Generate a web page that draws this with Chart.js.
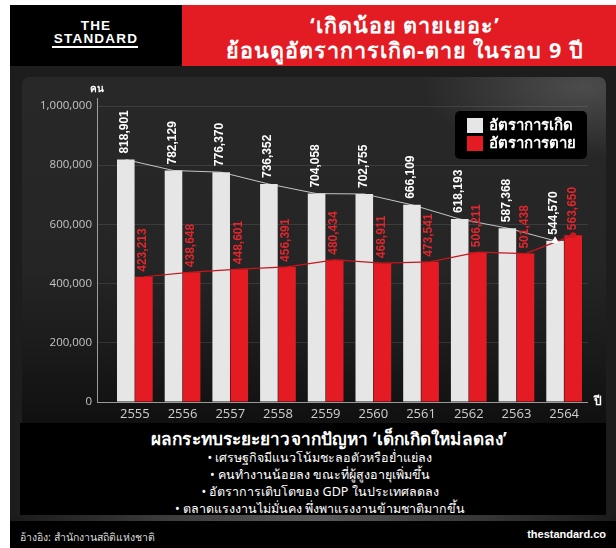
<!DOCTYPE html>
<html><head><meta charset="utf-8">
<script src="https://cdn.jsdelivr.net/npm/chart.js@4.4.1/dist/chart.umd.min.js"></script>
<style>
html,body{margin:0;padding:0;background:#fff;width:616px;height:548px;overflow:hidden;font-family:"Noto Sans","Open Sans",sans-serif;}
#page{position:relative;width:616px;height:548px;}
#dark{position:absolute;left:10px;top:5px;right:0;bottom:0;background:#1d1d1d;}
#logo{position:absolute;left:10px;top:5px;width:172px;height:61px;background:#000;color:#fff;text-align:center;font-family:"Liberation Sans",Arial,sans-serif;font-weight:bold;}
#logo .t1{position:absolute;left:0;right:0;top:14px;font-size:13.5px;letter-spacing:1.2px;line-height:13px;}
#logo .t2{position:absolute;left:0;right:0;top:27px;font-size:13.5px;letter-spacing:1.2px;line-height:13px;}
#logo .ul{position:absolute;left:42px;width:86px;top:41px;height:2px;background:#fff;}
#title{position:absolute;left:182px;top:5px;right:0;height:61px;background:#e31b23;color:#fff;text-align:center;font-weight:bold;font-size:21.5px;letter-spacing:1px;line-height:25px;padding-top:7px;box-sizing:border-box;padding-left:12px;}
#panel{position:absolute;left:22px;top:77px;width:584px;height:346px;border-radius:7px 7px 0 0;
 background:radial-gradient(ellipse 160px 70px at 560px 10px,rgba(120,120,120,0.45),rgba(120,120,120,0) 100%),linear-gradient(180deg,#282828 0%,#252525 55%,#1a1a1a 80%,#101010 100%);}
#chartwrap{position:absolute;left:0;top:72px;width:616px;height:351px;}
#box{position:absolute;left:20px;top:423px;width:586px;height:92px;background:#000;color:#fff;text-align:center;}
#box .h{font-weight:bold;font-size:17.2px;letter-spacing:0.1px;line-height:20px;margin-top:6px;padding-left:32px;}
#box .b{font-size:12.5px;line-height:17px;padding-left:14px;}
#strip{position:absolute;left:10px;top:515px;right:0;height:6px;background:linear-gradient(90deg,#1a1a1a,#5a5a5a 50%,#1a1a1a);}
#footer{position:absolute;left:10px;top:521px;right:0;bottom:0;background:#000;color:#ddd;}
#footer .l{position:absolute;left:10px;top:8px;font-size:10.5px;}
#footer .r{position:absolute;right:10px;top:7px;font-size:11px;font-weight:bold;color:#fff;font-family:"Liberation Sans",Arial,sans-serif;}
</style></head>
<body><div id="page">
<div id="dark"></div>
<div id="logo"><div class="t1">THE</div><div class="t2">STANDARD</div><div class="ul"></div></div>
<div id="title">‘เกิดน้อย ตายเยอะ’<br>ย้อนดูอัตราการเกิด-ตาย ในรอบ 9 ปี</div>
<div id="panel"></div>
<div id="chartwrap"><canvas id="c"></canvas></div>
<div id="box">
<div class="h">ผลกระทบระยะยาวจากปัญหา ‘เด็กเกิดใหม่ลดลง’</div>
<div class="b">• เศรษฐกิจมีแนวโน้มชะลอตัวหรือย่ำแย่ลง</div>
<div class="b">• คนทำงานน้อยลง ขณะที่ผู้สูงอายุเพิ่มขึ้น</div>
<div class="b">• อัตราการเติบโตของ GDP ในประเทศลดลง</div>
<div class="b">• ตลาดแรงงานไม่มั่นคง พึ่งพาแรงงานข้ามชาติมากขึ้น</div>
</div>
<div id="strip"></div>
<div id="footer"><div class="l">อ้างอิง: สำนักงานสถิติแห่งชาติ</div><div class="r">thestandard.co</div></div>
</div>
<script>
const years = ['2555','2556','2557','2558','2559','2560','2561','2562','2563','2564'];
const births = [818901,782129,776370,736352,704058,702755,666109,618193,587368,544570];
const deaths = [423213,438648,448601,456391,480434,468911,473541,506211,501438,563650];
const seriesNames = ['อัตราการเกิด','อัตราการตาย'];
const yTickValues = [0,200000,400000,600000,800000,1000000];
const yUnit = 'คน';
const xUnit = 'ปี';

const WHITE = '#e6e6e6', RED = '#e41b23';
const fmt = v => v.toLocaleString('en-US');
const lastOnly = (arr, r) => arr.map((_, i) => i === arr.length - 1 ? r : 0);

const deco = {
  id: 'deco',
  beforeDatasetDraw(chart, args) {
    const ds = chart.data.datasets[args.index];
    if (ds.type === 'line') {
      const bar = chart.getDatasetMeta(ds.barRef).data[0];
      const dx = bar.x - chart.scales.x.getPixelForValue(0);
      chart.ctx.save();
      chart.ctx.translate(dx, 0);
    }
  },
  afterDatasetDraw(chart, args) {
    const ds = chart.data.datasets[args.index];
    if (ds.type === 'line') chart.ctx.restore();
  },
  afterDatasetsDraw(chart) {
    const ctx = chart.ctx;
    [0, 1].forEach(di => {
      const meta = chart.getDatasetMeta(di);
      meta.data.forEach((bar, i) => {
        const v = chart.data.datasets[di].data[i];
        ctx.save();
        ctx.translate(bar.x - 1, bar.y - (di === 0 ? 6 : 5));
        ctx.rotate(-Math.PI / 2);
        ctx.font = 'bold 12px "Liberation Sans", Arial, sans-serif';
        ctx.fillStyle = di === 0 ? '#ffffff' : '#e3262d';
        ctx.textAlign = 'left';
        ctx.textBaseline = 'middle';
        ctx.fillText(fmt(v), 0, 0);
        ctx.restore();
      });
    });
  },
  afterDraw(chart) {
    const ctx = chart.ctx, a = chart.chartArea;
    const tl = chart.options.scales.y.grid.tickLength;
    ctx.save();
    ctx.strokeStyle = 'rgba(200,200,200,0.75)';
    ctx.lineWidth = 1;
    ctx.beginPath();
    ctx.moveTo(a.left - tl + 0.5, a.top - 8);
    ctx.lineTo(a.left - tl + 0.5, a.bottom);
    ctx.stroke();
    ctx.fillStyle = '#fff';
    ctx.font = 'bold 10px "Noto Sans", sans-serif';
    ctx.textAlign = 'center';
    ctx.textBaseline = 'middle';
    ctx.fillText(yUnit, a.left - tl, a.top - 17);
    ctx.font = 'bold 12px "Noto Sans", sans-serif';
    ctx.textAlign = 'left';
    ctx.fillText(xUnit, a.right + 6, a.bottom);
    const bx = a.right - 133, by = a.top + 5, bw = 132, bh = 48;
    ctx.fillStyle = '#000';
    ctx.beginPath();
    ctx.roundRect(bx, by, bw, bh, 5);
    ctx.fill();
    chart.data.datasets.slice(0, 2).forEach((ds, i) => {
      const cy = by + 14 + i * 18;
      ctx.fillStyle = ds.backgroundColor;
      ctx.fillRect(bx + 12, cy - 7, 16, 15);
      ctx.fillStyle = '#fff';
      ctx.font = 'bold 15px "Noto Sans", sans-serif';
      ctx.textAlign = 'left';
      ctx.textBaseline = 'middle';
      ctx.fillText(ds.label, bx + 34, cy + 1);
    });
    ctx.restore();
  }
};

new Chart(document.getElementById('c'), {
  data: {
    labels: years,
    datasets: [
      { type: 'bar', label: seriesNames[0], data: births, backgroundColor: WHITE, order: 2,
        barPercentage: 0.97, categoryPercentage: 0.76 },
      { type: 'bar', label: seriesNames[1], data: deaths, backgroundColor: RED, order: 2,
        barPercentage: 0.97, categoryPercentage: 0.76 },
      { type: 'line', label: 'births-trend', data: births, barRef: 0, order: 0,
        borderColor: 'rgba(225,225,225,0.85)', borderWidth: 1, tension: 0,
        pointRadius: lastOnly(births, 4.5), pointStyle: 'triangle', rotation: 120,
        pointBackgroundColor: '#fff', pointBorderWidth: 0 },
      { type: 'line', label: 'deaths-trend', data: deaths, barRef: 1, order: 0,
        borderColor: '#c5161d', borderWidth: 1.2, tension: 0,
        pointRadius: lastOnly(deaths, 3), pointStyle: 'circle',
        pointBackgroundColor: '#d01820', pointBorderWidth: 0 }
    ]
  },
  options: {
    responsive: true,
    maintainAspectRatio: false,
    animation: false,
    devicePixelRatio: 1,
    layout: { padding: { top: 34, right: 28, left: 0, bottom: 0 } },
    plugins: { legend: { display: false }, tooltip: { enabled: false } },
    scales: {
      x: {
        type: 'category',
        grid: { display: false, drawTicks: false },
        border: { display: false },
        ticks: { color: '#cfcfcf', font: { family: '"Open Sans", "Noto Sans", sans-serif', size: 13 }, padding: 4, maxRotation: 0 },
        afterFit(s) { s.height = 21; }
      },
      y: {
        min: 0, max: 1000000,
        afterBuildTicks(s) { s.ticks = yTickValues.map(v => ({ value: v })); },
        grid: {
          color: c => c.tick && c.tick.value === 0 ? 'rgba(200,200,200,0.75)' : 'rgba(255,255,255,0.10)',
          lineWidth: 1, tickLength: 14, drawTicks: true
        },
        border: { display: false },
        ticks: { color: '#c4c4c4', font: { family: '"Open Sans", "Noto Sans", sans-serif', size: 11.5 }, padding: 5, callback: v => fmt(v) },
        afterFit(s) { s.width = 111; }
      }
    }
  },
  plugins: [deco]
});
</script>
</body></html>
